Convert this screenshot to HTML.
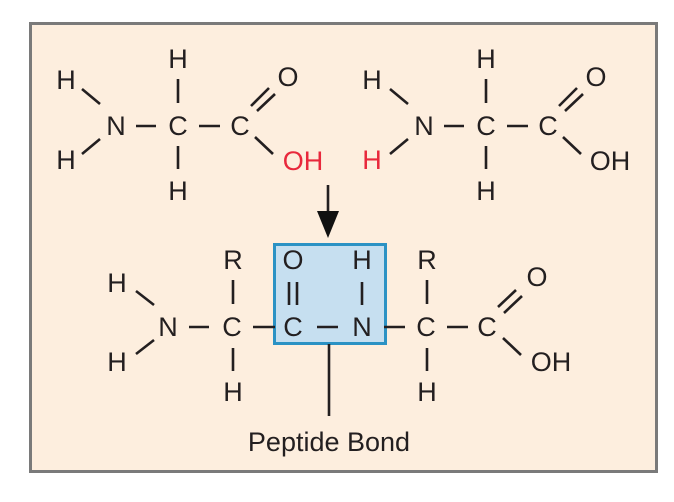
<!DOCTYPE html>
<html><head><meta charset="utf-8"><style>
html,body{margin:0;padding:0;background:#fff;}
svg{display:block;}
text{font-family:"Liberation Sans",sans-serif;font-size:27px;fill:#231f20;text-anchor:middle;dominant-baseline:central;}
line{stroke:#231f20;stroke-width:2.6;}
</style></head><body>
<svg width="674" height="502" viewBox="0 0 674 502" xmlns="http://www.w3.org/2000/svg">
<rect x="30.5" y="23.5" width="626" height="448" fill="#fdeede" stroke="#7a7a7a" stroke-width="3"/>
<g>
<text x="66" y="80">H</text><text x="66" y="160">H</text>
<text x="116" y="126">N</text><text x="178" y="126">C</text><text x="240" y="126">C</text>
<text x="178" y="59">H</text><text x="178" y="191">H</text>
<text x="288" y="77">O</text><text x="303" y="161" style="fill:#e8283c">OH</text>
<line x1="82" y1="89" x2="100" y2="104"/><line x1="82" y1="154" x2="100" y2="139"/>
<line x1="136" y1="126" x2="156" y2="126"/><line x1="199" y1="126" x2="220" y2="126"/>
<line x1="178" y1="79" x2="178" y2="103"/><line x1="178" y1="146" x2="178" y2="169"/>
<line x1="251" y1="106" x2="269" y2="88"/><line x1="257" y1="111" x2="275" y2="94"/>
<line x1="255" y1="137" x2="273" y2="154"/>
</g>
<g transform="translate(308,0)">
<text x="64" y="80">H</text><text x="64" y="160" style="fill:#e8283c">H</text>
<text x="116" y="126">N</text><text x="178" y="126">C</text><text x="240" y="126">C</text>
<text x="178" y="59">H</text><text x="178" y="191">H</text>
<text x="288" y="77">O</text><text x="302" y="161">OH</text>
<line x1="82" y1="89" x2="100" y2="104"/><line x1="82" y1="154" x2="100" y2="139"/>
<line x1="136" y1="126" x2="156" y2="126"/><line x1="199" y1="126" x2="220" y2="126"/>
<line x1="178" y1="79" x2="178" y2="103"/><line x1="178" y1="146" x2="178" y2="169"/>
<line x1="251" y1="106" x2="269" y2="88"/><line x1="257" y1="111" x2="275" y2="94"/>
<line x1="255" y1="137" x2="273" y2="154"/>
</g>
<line x1="328" y1="185" x2="328" y2="215" stroke-width="3.5"/>
<polygon points="317,211 339,211 328,238" fill="#111"/>
<rect x="274.5" y="244.5" width="111" height="99" fill="#c6dff0" stroke="#2b92c4" stroke-width="3"/>
<line x1="329" y1="344" x2="329" y2="416" stroke-width="2"/>
<text x="329" y="442">Peptide Bond</text>
<text x="117" y="283">H</text><text x="117" y="362">H</text>
<text x="168" y="327">N</text><text x="232" y="327">C</text><text x="293" y="327">C</text>
<text x="362" y="327">N</text><text x="426" y="327">C</text><text x="487" y="327">C</text>
<text x="233" y="260">R</text><text x="233" y="392">H</text>
<text x="293" y="260">O</text><text x="362" y="260">H</text>
<text x="427" y="260">R</text><text x="427" y="392">H</text>
<text x="537" y="277">O</text><text x="551" y="362">OH</text>
<line x1="136" y1="291" x2="154" y2="305"/><line x1="136" y1="354" x2="154" y2="340"/>
<line x1="189" y1="327" x2="209" y2="327"/><line x1="253" y1="327" x2="275" y2="327"/>
<line x1="317" y1="327" x2="338" y2="327"/><line x1="384" y1="327" x2="405" y2="327"/>
<line x1="447" y1="327" x2="468" y2="327"/>
<line x1="233" y1="280" x2="233" y2="304"/><line x1="233" y1="348" x2="233" y2="371"/>
<line x1="427" y1="280" x2="427" y2="304"/><line x1="427" y1="348" x2="427" y2="371"/>
<line x1="289" y1="282" x2="289" y2="305"/><line x1="297" y1="282" x2="297" y2="305"/>
<line x1="362" y1="282" x2="362" y2="305"/>
<line x1="498" y1="307" x2="516" y2="290"/><line x1="504" y1="313" x2="522" y2="296"/>
<line x1="503" y1="338" x2="521" y2="355"/>
</svg>
</body></html>
